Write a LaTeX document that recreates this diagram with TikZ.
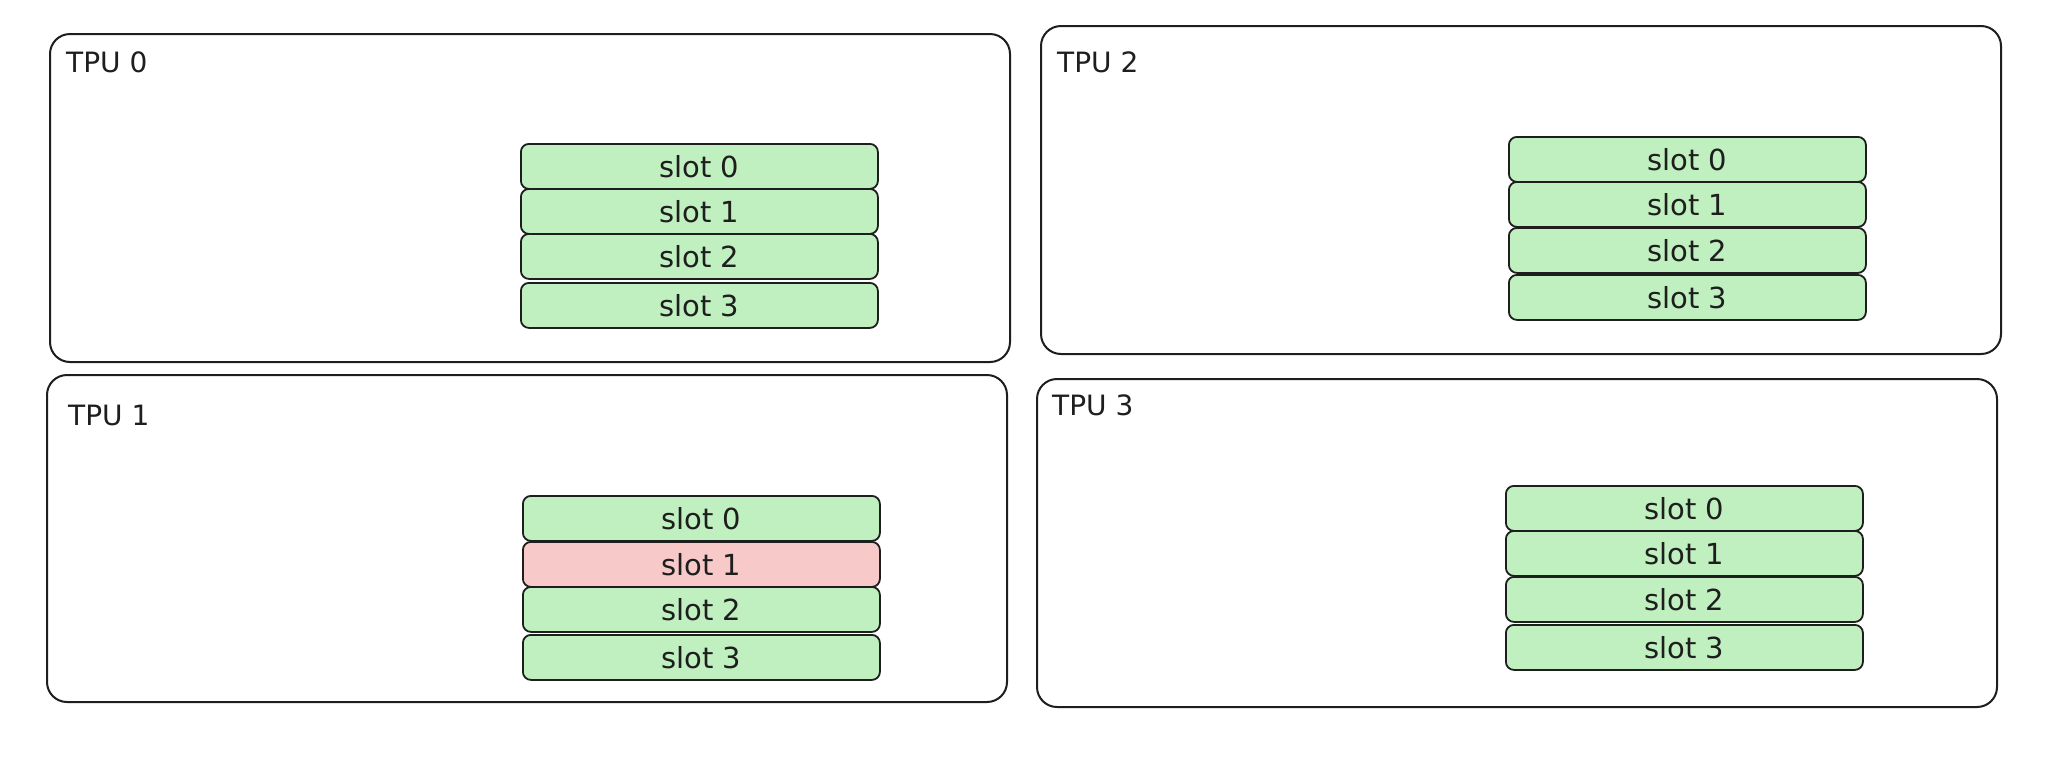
\documentclass[tikz,border=0pt]{standalone}
\usepackage{fontspec}
\setmainfont{DejaVu Sans}
\definecolor{ink}{HTML}{1E1E1E}
\definecolor{slotgreen}{HTML}{C0F0C0}
\definecolor{slotred}{HTML}{F8C9C9}
\tikzset{
  tpubox/.style={draw=ink, line width=2pt, rounded corners=20pt, fill=white,
    anchor=north west, minimum width=960pt, minimum height=328pt, inner sep=0pt},
  tpulabel/.style={anchor=west, text=ink, font=\fontsize{28}{32}\selectfont, inner sep=0pt},
  slotbox/.style={draw=ink, line width=1.8pt, rounded corners=8pt, fill=slotgreen,
    anchor=north west, minimum width=357pt, minimum height=45pt, inner sep=0pt,
    text=ink, font=\fontsize{29}{32}\selectfont},
  badslot/.style={slotbox, fill=slotred}
}
\begin{document}
\begin{tikzpicture}[x=1pt,y=-1pt]
\useasboundingbox (0,0) rectangle (2056,756);
\fill[white] (0,0) rectangle (2056,756);
% TPU 0
\node[tpubox] (tpu0) at (49,33) {};
\node[tpulabel] (lab0) at (66,62) {TPU 0};
\node[slotbox] (s00) at (520,143) {slot 0};
\node[slotbox] (s01) at (520,188) {slot 1};
\node[slotbox] (s02) at (520,233) {slot 2};
\node[slotbox] (s03) at (520,282) {slot 3};
% TPU 2
\node[tpubox] (tpu2) at (1040,25) {};
\node[tpulabel] (lab2) at (1057,62) {TPU 2};
\node[slotbox] (s20) at (1508,136) {slot 0};
\node[slotbox] (s21) at (1508,181) {slot 1};
\node[slotbox] (s22) at (1508,227) {slot 2};
\node[slotbox] (s23) at (1508,274) {slot 3};
% TPU 1
\node[tpubox, minimum height=327pt] (tpu1) at (46,374) {};
\node[tpulabel] (lab1) at (68,415) {TPU 1};
\node[slotbox] (s10) at (522,495) {slot 0};
\node[badslot] (s11) at (522,541) {slot 1};
\node[slotbox] (s12) at (522,586) {slot 2};
\node[slotbox] (s13) at (522,634) {slot 3};
% TPU 3
\node[tpubox] (tpu3) at (1036,378) {};
\node[tpulabel] (lab3) at (1052,405) {TPU 3};
\node[slotbox] (s30) at (1505,485) {slot 0};
\node[slotbox] (s31) at (1505,530) {slot 1};
\node[slotbox] (s32) at (1505,576) {slot 2};
\node[slotbox] (s33) at (1505,624) {slot 3};
\end{tikzpicture}
\end{document}
